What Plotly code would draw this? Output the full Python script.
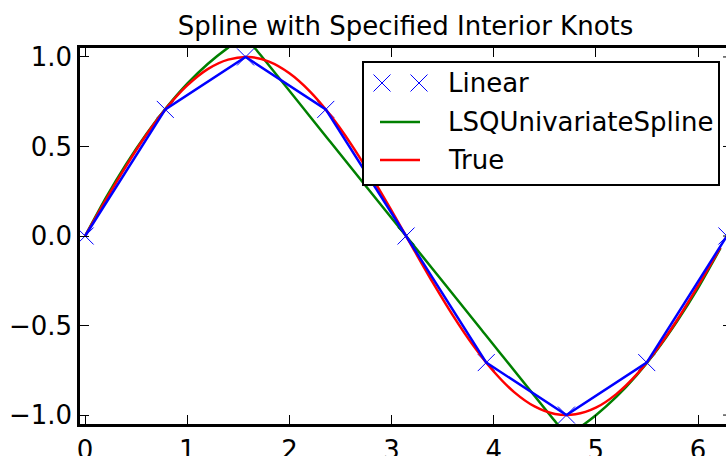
import plotly.graph_objects as go

# ---- data ----
linear_x = [0.0, 0.785, 1.571, 2.356, 3.142, 3.927, 4.712, 5.498, 6.283]
linear_y = [0.0, 0.707, 1.0, 0.707, 0.0, -0.707, -1.0, -0.707, 0.0]

true_x = [0.0, 0.2, 0.4, 0.6, 0.8, 1.0, 1.2, 1.4, 1.6, 1.8, 2.0, 2.2, 2.4, 2.6, 2.8, 3.0,
          3.2, 3.4, 3.6, 3.8, 4.0, 4.2, 4.4, 4.6, 4.8, 5.0, 5.2, 5.4, 5.6, 5.8, 6.0, 6.22]
true_y = [0.0, 0.199, 0.389, 0.565, 0.717, 0.841, 0.932, 0.985, 1.0, 0.974, 0.909, 0.808,
          0.675, 0.516, 0.335, 0.141, -0.058, -0.256, -0.443, -0.612, -0.757, -0.872,
          -0.952, -0.994, -0.996, -0.959, -0.883, -0.773, -0.631, -0.465, -0.279, -0.063]

lsq_x = [0.0, 0.2, 0.4, 0.6, 0.8, 1.0, 1.2, 1.4, 1.471, 1.521, 1.571, 1.621, 1.671,
         2.4, 3.142, 3.884, 4.612, 4.662, 4.712, 4.762, 4.812,
         5.0, 5.2, 5.4, 5.6, 5.8, 6.0, 6.22]
lsq_y = [0.0, 0.21, 0.40, 0.57, 0.72, 0.851, 0.961, 1.052, 1.079, 1.091, 1.089, 1.073, 1.043,
         0.526, 0.0, -0.526, -1.043, -1.073, -1.089, -1.091, -1.079,
         -1.001, -0.899, -0.777, -0.635, -0.472, -0.291, -0.068]

x_ticks = [0, 1, 2, 3, 4, 5, 6]
y_ticks = [-1.0, -0.5, 0.0, 0.5, 1.0]
x_range = [-0.05, 6.274]
y_range = [-1.05, 1.05]

legend_names = ["Linear", "LSQUnivariateSpline", "True"]
legend_colors = ["#0000ff", "#008000", "#ff0000"]
title_text = "Spline with Specified Interior Knots"

FONT = "DejaVu Sans"
FS = 26
W, H = 726, 456
L, R, T, B = 80, 0, 48, 32
pw, ph = W - L - R, H - T - B


def px(x):  # pixel x -> paper x
    return (x - L) / pw


def py(y):  # pixel y -> paper y
    return (H - B - y) / ph


fig = go.Figure()
fig.add_trace(go.Scatter(x=linear_x, y=linear_y, mode="markers", name=legend_names[0],
                         showlegend=False, cliponaxis=True,
                         marker=dict(symbol="x-thin-open", size=17, color=legend_colors[0],
                                     line=dict(width=1, color=legend_colors[0]))))
fig.add_trace(go.Scatter(x=lsq_x, y=lsq_y, mode="lines", name=legend_names[1], showlegend=False,
                         line=dict(color=legend_colors[1], width=2.5, shape="spline", smoothing=0.6)))
fig.add_trace(go.Scatter(x=true_x, y=true_y, mode="lines", name=legend_names[2], showlegend=False,
                         line=dict(color=legend_colors[2], width=2.5, shape="spline", smoothing=0.8)))
fig.add_trace(go.Scatter(x=linear_x, y=linear_y, mode="lines", showlegend=False,
                         line=dict(color=legend_colors[0], width=2.5)))

# right-hand inward ticks (spine itself is outside the picture)
for v in y_ticks:
    fig.add_shape(type="line", xref="paper", yref="y", x0=1 - 3 / pw, x1=1, y0=v, y1=v,
                  line=dict(color="black", width=1))

# ---- legend box (matplotlib style: two markers / short line, then label) ----
box_l, box_r, box_t, box_b = 363, 719, 62, 185
row_y = [83, 122, 160]
fig.add_shape(type="rect", xref="paper", yref="paper",
              x0=px(box_l), x1=px(box_r), y0=py(box_b), y1=py(box_t),
              fillcolor="white", line=dict(color="black", width=2))
for i, (name, col) in enumerate(zip(legend_names, legend_colors)):
    yc = row_y[i]
    if i == 0:
        for cx in (382, 419):
            for d in (-1, 1):
                fig.add_shape(type="line", xref="paper", yref="paper",
                              x0=px(cx - 8.5), x1=px(cx + 8.5),
                              y0=py(yc - 8.5 * d), y1=py(yc + 8.5 * d),
                              line=dict(color=col, width=1))
    else:
        fig.add_shape(type="line", xref="paper", yref="paper",
                      x0=px(380), x1=px(420), y0=py(yc), y1=py(yc),
                      line=dict(color=col, width=2.5))
    fig.add_annotation(text=name, xref="paper", yref="paper", x=px(446), y=py(yc),
                       xanchor="left", yanchor="middle", showarrow=False,
                       font=dict(family=FONT, size=FS, color="black"))

fig.update_layout(
    width=W, height=H,
    margin=dict(l=L, r=R, t=T, b=B, autoexpand=False),
    paper_bgcolor="white", plot_bgcolor="white",
    font=dict(family=FONT, size=FS, color="black"),
    title=dict(text=title_text, x=px(405.5), xref="paper", xanchor="center",
               y=1 - 26 / H, yanchor="middle", font=dict(family=FONT, size=FS, color="black")),
    showlegend=False,
)
fig.update_xaxes(range=x_range, tickmode="array", tickvals=x_ticks,
                 ticktext=[str(v) for v in x_ticks],
                 showgrid=False, zeroline=False, showline=True, linecolor="black", linewidth=2.5,
                 mirror="ticks", ticks="inside", ticklen=9, tickwidth=1, tickcolor="black",
                 tickfont=dict(family=FONT, size=FS, color="black"), ticklabelstandoff=1)
fig.update_yaxes(range=y_range, tickmode="array", tickvals=y_ticks,
                 ticktext=[("\u2212" if v < 0 else "") + f"{abs(v):.1f}" for v in y_ticks],
                 showgrid=False, zeroline=False, showline=True, linecolor="black", linewidth=2.5,
                 ticks="inside", ticklen=9, tickwidth=1, tickcolor="black",
                 tickfont=dict(family=FONT, size=FS, color="black"), ticklabelstandoff=0)

fig.write_html("out.html", config={"displayModeBar": False},
               post_script="document.body.style.margin='0';document.body.style.overflow='hidden';")
